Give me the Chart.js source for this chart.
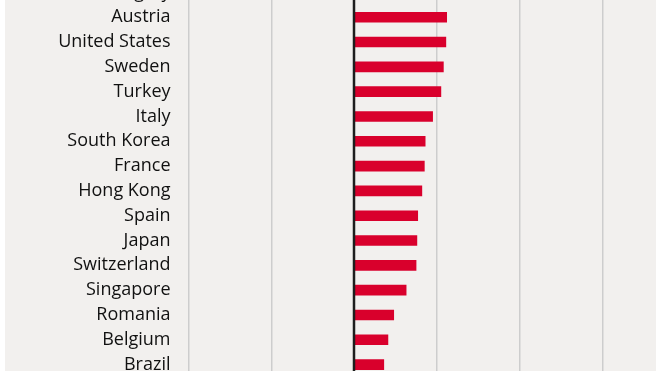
<!DOCTYPE html>
<html lang="en">
<head>
    <meta charset="UTF-8">
    <title>Country bars</title>
    <style>
* {
    margin: 0;
    padding: 0;
    box-sizing: border-box;
}

body {
    background: #fff;
    width: 660px;
    height: 371px;
    overflow: hidden;
    position: relative;
}

.panel {
    position: absolute;
    left: 5px;
    top: 0;
    width: 651px;
    height: 371px;
    overflow: hidden;
    background-color: #f2f0ee;
}

#chart {
    position: absolute;
    left: 0;
    top: -20px;
}
    </style>
</head>
<body>
    <div class="panel">
        <canvas id="chart" width="680" height="397"></canvas>
    </div>

    <script src="https://cdn.jsdelivr.net/npm/chart.js@4"></script>
    <script>
// Data (top row is cut off, its bar is not visible)
const countries = ['Hungary', 'Austria', 'United States', 'Sweden', 'Turkey', 'Italy',
    'South Korea', 'France', 'Hong Kong', 'Spain', 'Japan', 'Switzerland',
    'Singapore', 'Romania', 'Belgium', 'Brazil'];
const values = [null, 1.12, 1.11, 1.08, 1.05, 0.95,
    0.86, 0.85, 0.82, 0.77, 0.76, 0.75,
    0.63, 0.48, 0.41, 0.36];
const xRange = [-2, 4];

// black zero line drawn over the bars
const zeroLine = {
    id: 'zeroLine',
    afterDatasetsDraw(chart) {
        const ctx = chart.ctx;
        const x = chart.scales.x.getPixelForValue(0);
        ctx.save();
        ctx.strokeStyle = '#1e1e1e';
        ctx.lineWidth = 2.5;
        ctx.beginPath();
        ctx.moveTo(x, chart.chartArea.top);
        ctx.lineTo(x, chart.chartArea.bottom);
        ctx.stroke();
        ctx.restore();
    }
};

const ctx = document.getElementById('chart').getContext('2d');
new Chart(ctx, {
    type: 'bar',
    data: {
        labels: countries,
        datasets: [{
            data: values,
            backgroundColor: '#d9002c',
            borderWidth: 0,
            barThickness: 10
        }]
    },
    options: {
        indexAxis: 'y',
        responsive: false,
        animation: false,
        layout: { padding: 0 },
        plugins: {
            legend: { display: false },
            tooltip: { enabled: false }
        },
        scales: {
            x: {
                min: xRange[0],
                max: xRange[1],
                afterFit: s => {
                    s.height = 0;
                    s.paddingLeft = 0;
                    s.paddingRight = 0;
                },
                ticks: { display: false, stepSize: 1 },
                border: { display: false },
                grid: {
                    drawTicks: false,
                    color: c => c.tick.value === 0 ? 'rgba(0,0,0,0)' : '#cdcdcd',
                    lineWidth: 1.5
                }
            },
            y: {
                afterFit: s => {
                    s.width = 183.5;
                    s.paddingTop = 0;
                    s.paddingBottom = 0;
                },
                border: { display: false },
                grid: { display: false, drawTicks: false },
                ticks: {
                    padding: 18,
                    color: '#111',
                    font: { family: 'Open Sans', size: 18 }
                }
            }
        }
    },
    plugins: [zeroLine]
});
    </script>
</body>
</html>
